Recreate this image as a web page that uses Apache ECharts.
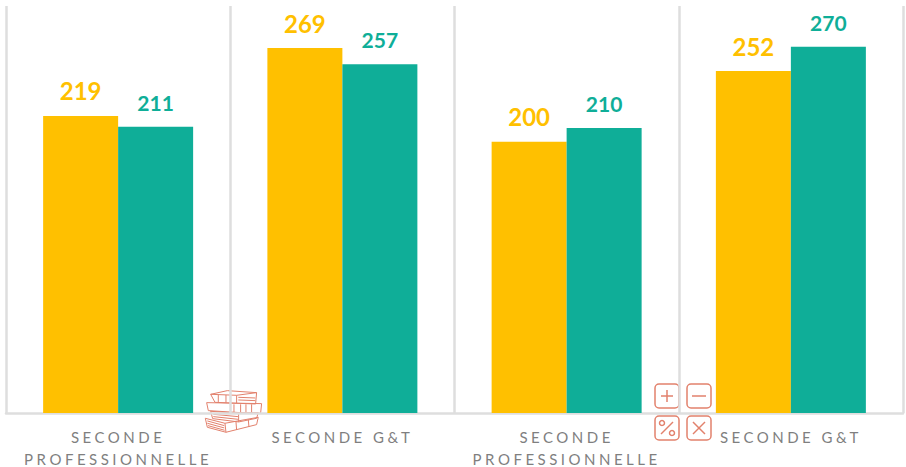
<!DOCTYPE html>
<html>
<head>
<meta charset="utf-8">
<style>
  html, body { margin: 0; background: #fff; }
  #chart { width: 906px; height: 467px; }
  /* spaced-out axis labels, echarts has no letter spacing option */
  #chart text[fill="#7f7f7f"] { letter-spacing: 3.5px; }
</style>
<script src="https://cdn.jsdelivr.net/npm/echarts@6/dist/echarts.min.js"></script>
</head>
<body>
<div id="chart"></div>
<script>
const categories = ['SECONDE\nPROFESSIONNELLE', 'SECONDE G&T', 'SECONDE\nPROFESSIONNELLE', 'SECONDE G&T']
const yellowValues = [219, 269, 200, 252]
const tealValues = [211, 257, 210, 270]

const YELLOW = '#ffc000'
const TEAL = '#0fae98'
const ICON = '#e2816c'

// Book stack outlines, traced in 3x pixels
const bookLines = [
  [[62, 73], [112, 62], [200, 68], [197, 102], [140, 100], [75, 97], [62, 73]],
  [[62, 73], [140, 76], [200, 68]],
  [[140, 76], [140, 100]],
  [[85, 75], [85, 96]], [[108, 75], [108, 98]],
  [[145, 82], [196, 84]], [[145, 90], [196, 92]],
  [[50, 98], [215, 101], [212, 130], [150, 128], [55, 122], [50, 98]],
  [[132, 103], [132, 127]], [[152, 103], [152, 128]], [[168, 103], [168, 129]], [[185, 103], [185, 129]],
  [[62, 124], [146, 130], [205, 128], [200, 145], [146, 156], [68, 146], [62, 124]],
  [[146, 130], [146, 156]],
  [[70, 133], [144, 140]], [[70, 140], [144, 148]],
  [[46, 145], [105, 160], [205, 142], [200, 164], [108, 187], [52, 172], [46, 145]],
  [[105, 160], [108, 187]],
  [[52, 153], [103, 167]], [[52, 160], [103, 174]], [[54, 167], [104, 181]],
  [[138, 155], [140, 180]], [[175, 148], [177, 171]]
]

function iconBox(x, y) {
  return {
    type: 'rect',
    shape: { x: x, y: y, width: 24, height: 24, r: 4 },
    style: { fill: 'none', stroke: ICON, lineWidth: 1.5 }
  }
}

function iconLine(x1, y1, x2, y2) {
  return {
    type: 'line',
    shape: { x1: x1, y1: y1, x2: x2, y2: y2 },
    style: { stroke: ICON, lineWidth: 1.5 }
  }
}

const chart = echarts.init(document.getElementById('chart'), null, { renderer: 'svg' })

chart.setOption({
  animation: false,
  backgroundColor: '#fff',
  grid: { left: 6, top: 6, width: 897, height: 407, outerBoundsMode: 'none' },
  xAxis: {
    type: 'category',
    data: categories,
    axisLine: { lineStyle: { color: '#dedede', width: 2.5 } },
    axisTick: { show: false },
    splitLine: { show: true, lineStyle: { color: '#dedede', width: 2.5 } },
    axisLabel: {
      color: '#7f7f7f',
      fontFamily: 'Lato',
      fontSize: 15,
      lineHeight: 22,
      margin: 13,
      interval: 0
    }
  },
  yAxis: { type: 'value', min: 0, max: 300, show: false },
  series: [
    {
      type: 'bar',
      data: yellowValues,
      barWidth: 75,
      barGap: 0,
      itemStyle: { color: YELLOW },
      label: {
        show: true,
        position: 'top',
        distance: 13,
        color: YELLOW,
        fontFamily: 'Lato',
        fontWeight: 'bold',
        fontSize: 24
      }
    },
    {
      type: 'bar',
      data: tealValues,
      barWidth: 75,
      barGap: 0,
      itemStyle: { color: TEAL },
      label: {
        show: true,
        position: 'top',
        distance: 14,
        color: TEAL,
        fontFamily: 'Lato',
        fontWeight: 'bold',
        fontSize: 21
      }
    }
  ],
  graphic: [
    {
      type: 'group',
      x: 190,
      y: 370,
      scaleX: 1 / 3,
      scaleY: 1 / 3,
      children: bookLines.map(function (pts) {
        return {
          type: 'polyline',
          shape: { points: pts },
          style: { fill: '#fff', fillOpacity: 0, stroke: ICON, lineWidth: 3 }
        }
      })
    },
    iconBox(655, 384),
    iconLine(661, 396, 673, 396),
    iconLine(667, 390, 667, 402),
    iconBox(687, 384),
    iconLine(692, 396, 706, 396),
    iconBox(655, 416),
    iconLine(661, 434, 673, 422),
    { type: 'circle', shape: { cx: 662, cy: 423, r: 2.5 }, style: { fill: 'none', stroke: ICON, lineWidth: 1.5 } },
    { type: 'circle', shape: { cx: 672, cy: 433, r: 2.5 }, style: { fill: 'none', stroke: ICON, lineWidth: 1.5 } },
    iconBox(687, 416),
    iconLine(693, 422, 705, 434),
    iconLine(705, 422, 693, 434)
  ]
})
</script>
</body>
</html>
